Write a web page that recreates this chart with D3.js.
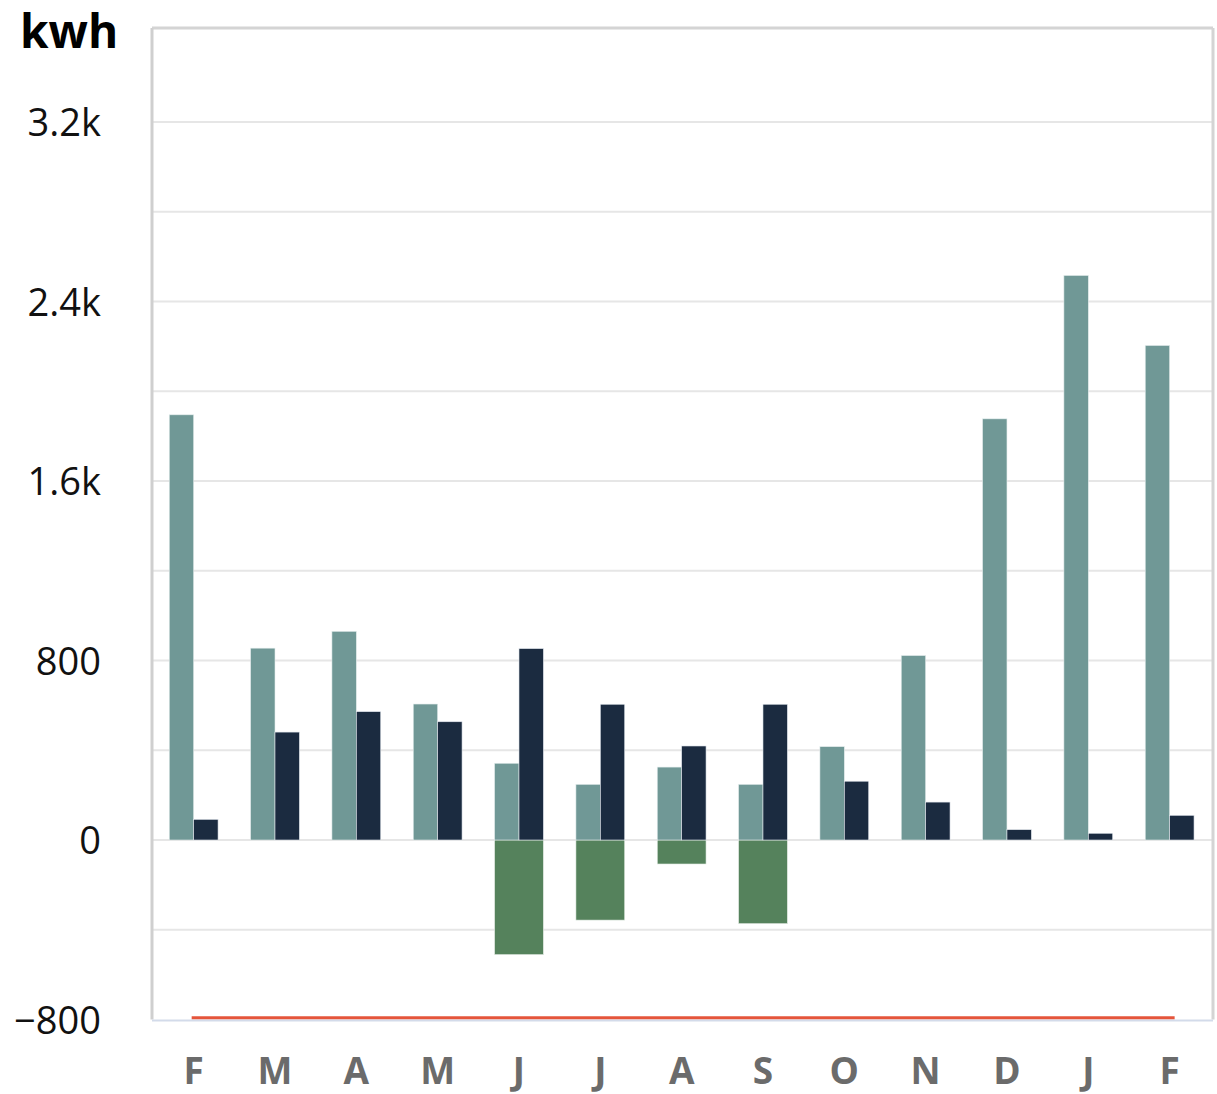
<!DOCTYPE html>
<html>
<head>
<meta charset="utf-8">
<script src="https://cdn.jsdelivr.net/npm/d3@7"></script>
<style>
  html, body { margin: 0; padding: 0; background: #fff; }
  svg { display: block; }
</style>
</head>
<body>
<svg id="chart" width="1217" height="1094"></svg>
<script>
const months = ["F", "M", "A", "M", "J", "J", "A", "S", "O", "N", "D", "J", "F"];
const consumption = [1895, 855, 930, 606, 342, 248, 325, 248, 416, 822, 1877, 2516, 2204];
const production = [92, 481, 572, 527, 853, 605, 419, 605, 262, 169, 46, 30, 110];
const surplus = [0, 0, 0, 0, -511, -357, -107, -373, 0, 0, 0, 0, 0];
const baseline = [-792, -792, -792, -792, -792, -792, -792, -792, -792, -792, -792, -792, -792];
const yTickValues = [-800, 0, 800, 1600, 2400, 3200];
const yTickLabels = ["\u2212800", "0", "800", "1.6k", "2.4k", "3.2k"];
const gridValues = [-400, 0, 400, 800, 1200, 1600, 2000, 2400, 2800, 3200];

(function () {
const svg = d3.select("#chart");
const pL = 152, pR = 1213, pT = 28, pB = 1019.5;

const x = d3.scaleBand().domain(d3.range(months.length)).range([153, 1210.3]).paddingInner(0.4).paddingOuter(0.2);
const y = d3.scaleLinear().domain([-800, 3619]).range([pB, pT]);

// gridlines
svg.append("g").selectAll("line").data(gridValues).join("line")
  .attr("x1", pL).attr("x2", pR)
  .attr("y1", d => y(d)).attr("y2", d => y(d))
  .attr("stroke", "#e6e6e6").attr("stroke-width", 2);

const bw = x.bandwidth() / 2;

// surplus (negative green)
svg.append("g").selectAll("rect").data(surplus).join("rect")
  .attr("x", (d, i) => x(i))
  .attr("width", x.bandwidth())
  .attr("y", d => y(Math.max(0, d)))
  .attr("height", d => Math.abs(y(d) - y(0)))
  .attr("fill", "#55825c")
  .attr("stroke", "#e9efe9").attr("stroke-width", 0.6);

// consumption (teal)
svg.append("g").selectAll("rect").data(consumption).join("rect")
  .attr("x", (d, i) => x(i))
  .attr("width", bw)
  .attr("y", d => y(d))
  .attr("height", d => y(0) - y(d))
  .attr("fill", "#709896")
  .attr("stroke", "#e3ecec").attr("stroke-width", 0.6);

// production (dark navy)
svg.append("g").selectAll("rect").data(production).join("rect")
  .attr("x", (d, i) => x(i) + bw)
  .attr("width", bw)
  .attr("y", d => y(d))
  .attr("height", d => y(0) - y(d))
  .attr("fill", "#1b2b40")
  .attr("stroke", "#e3e8ee").attr("stroke-width", 0.6);

// frame
svg.append("line").attr("x1", pL).attr("x2", pR).attr("y1", pT).attr("y2", pT)
  .attr("stroke", "#d4d4d4").attr("stroke-width", 3);
svg.append("line").attr("x1", pR).attr("x2", pR).attr("y1", pT).attr("y2", pB)
  .attr("stroke", "#d4d4d4").attr("stroke-width", 3);
svg.append("line").attr("x1", pL).attr("x2", pL).attr("y1", pT).attr("y2", pB)
  .attr("stroke", "#cfcfcf").attr("stroke-width", 3);
svg.append("line").attr("x1", pL).attr("x2", pR).attr("y1", pB + 1).attr("y2", pB + 1)
  .attr("stroke", "#d3dbea").attr("stroke-width", 2);

// baseline line (orange)
const line = d3.line().x((d, i) => x(i) + x.bandwidth() / 2 + (i === months.length - 1 ? 5 : (i === 0 ? -2 : 0))).y(d => y(d));
svg.append("path").datum(baseline)
  .attr("d", line)
  .attr("fill", "none")
  .attr("stroke", "#e5553b").attr("stroke-width", 3);

// y axis labels
const yAxis = d3.axisLeft(y).tickValues(yTickValues)
  .tickFormat((d, i) => yTickLabels[i]).tickSize(0).tickPadding(0);
const gy = svg.append("g").attr("transform", "translate(101,0)").call(yAxis);
gy.select(".domain").remove();
gy.selectAll("text")
  .attr("font-family", "'Open Sans', sans-serif")
  .attr("font-size", 38)
  .attr("fill", "#111")
  .attr("dy", "0.36em");

// x axis labels
const xAxis = d3.axisBottom(x).tickFormat(i => months[i]).tickSize(0).tickPadding(0);
const gx = svg.append("g").attr("transform", "translate(0,1058)").call(xAxis);
gx.select(".domain").remove();
gx.selectAll("text")
  .attr("font-family", "'Open Sans', sans-serif")
  .attr("font-weight", "bold")
  .attr("font-size", 37)
  .attr("fill", "#6b6b6b")
  .attr("dy", "0.71em");

// unit title
svg.append("text").attr("x", 20).attr("y", 48)
  .attr("font-family", "'Open Sans', sans-serif")
  .attr("font-weight", "bold")
  .attr("font-size", 46)
  .attr("fill", "#000")
  .text("kwh");
})();
</script>
</body>
</html>
